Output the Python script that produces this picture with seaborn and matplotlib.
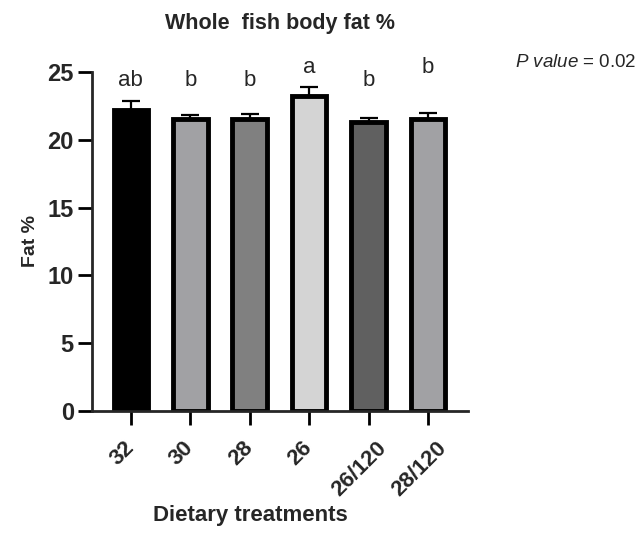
import pandas as pd
import seaborn as sns
import matplotlib.pyplot as plt
import matplotlib.transforms as mtransforms
import numpy as np

# --- data ---
treatments = ["32", "30", "28", "26", "26/120", "28/120"]
fat_mean = [22.2, 21.5, 21.57, 23.25, 21.3, 21.57]
fat_sem = [0.65, 0.3, 0.3, 0.65, 0.3, 0.4]
letters = ["ab", "b", "b", "a", "b", "b"]
letter_y = [24.4, 24.4, 24.4, 25.3, 24.4, 25.3]
bar_colors = ["#000000", "#a0a0a5", "#808080", "#d4d4d4", "#606060", "#a0a0a5"]

df = pd.DataFrame({"Treatment": treatments, "Fat": fat_mean})

sns.set_style("ticks")
plt.rcParams["font.family"] = ["Liberation Sans", "DejaVu Sans"]
plt.rcParams["mathtext.fontset"] = "custom"
plt.rcParams["mathtext.it"] = "Liberation Sans:italic"
plt.rcParams["mathtext.rm"] = "Liberation Sans"

fig = plt.figure(figsize=(6.42, 5.5), dpi=100)
ax = fig.add_axes([0.143, 0.253, 0.5857, 0.616])

sns.barplot(data=df, x="Treatment", y="Fat", hue="Treatment", palette=bar_colors,
            order=treatments, hue_order=treatments, legend=False, width=0.58,
            edgecolor="black", linewidth=3.5, errorbar=None, ax=ax)

# one-sided (upper) error bars
x = np.arange(len(treatments))
ax.errorbar(x, fat_mean, yerr=[np.zeros(len(fat_sem)), fat_sem], fmt="none",
            ecolor="black", elinewidth=1.6, capsize=6.5, capthick=1.6, zorder=1)

for xi, lab, ly in zip(x, letters, letter_y):
    ax.text(xi, ly, lab, ha="center", va="center", fontsize=16, clip_on=False)

ax.set_ylim(0, 25)
ax.set_xlim(-0.657, 5.67)
ax.set_yticks([0, 5, 10, 15, 20, 25])
ax.set_xticks(x)
ax.tick_params(axis="both", width=2, length=10, color="black")
ax.tick_params(axis="y", pad=3)
ax.tick_params(axis="x", pad=9)
ax.set_xticklabels(treatments, rotation=45, ha="center", va="top",
                   fontsize=16, fontweight="bold")
# nudge rotated labels left a little (after tick_params, which resets transforms)
shift = mtransforms.ScaledTranslation(-6.5 / 72, 0, fig.dpi_scale_trans)
for lbl in ax.get_xticklabels():
    lbl.set_transform(lbl.get_transform() + shift)
for lbl in ax.get_yticklabels():
    lbl.set_fontsize(17)
    lbl.set_fontweight("bold")
for s in ["left", "bottom"]:
    ax.spines[s].set_linewidth(2)
sns.despine(ax=ax)

ax.set_ylabel("Fat %", fontsize=14, fontweight="bold", va="center")
ax.yaxis.set_label_coords(-0.164, 0.5)
ax.set_xlabel("Dietary treatments", fontsize=16, fontweight="bold", va="top")
ax.xaxis.set_label_coords((251 - 92) / 376, -0.277)
fig.text(0.436, 0.958, "Whole  fish body fat %", ha="center", va="center",
         fontsize=15.5, fontweight="bold")
fig.text(0.802, 0.887, r"$\it{P\ value}$ = 0.02", ha="left", va="center", fontsize=13.5)

fig.savefig("out.png", dpi=100)
